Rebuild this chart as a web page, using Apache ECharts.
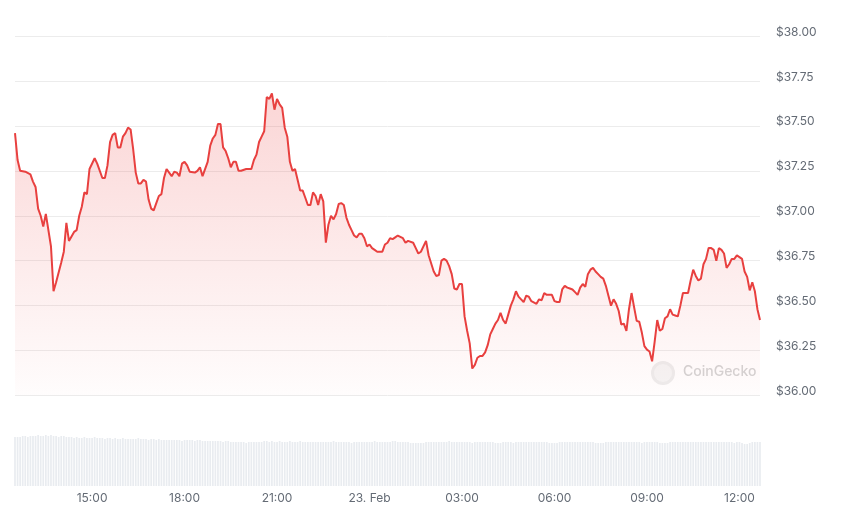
<!DOCTYPE html>
<html>
<head>
<meta charset="utf-8">
<script src="https://cdn.jsdelivr.net/npm/echarts@6/dist/echarts.min.js"></script>
<style>
html,body{margin:0;padding:0;background:#fff;}
#chart{width:844px;height:516px;}
</style>
</head>
<body>
<div id="chart"></div>
<script>
// 5-minute step index from 22 Feb 12:30 (local)
const steps = [
0,1,2,4,6,7,8,9,10,11,
12,14,15,16,18,19,20,21,23,24,
25,26,27,28,29,31,32,34,35,36,
37,38,39,40,41,42,43,44,45,46,
47,48,49,50,51,52,53,54,55,56,
57,58,59,60,61,62,63,64,65,66,
67,68,70,71,72,73,75,76,77,78,
79,80,81,82,83,84,85,86,87,88,
90,92,93,94,95,96,97,98,99,100,
101,102,103,104,105,106,107,108,109,110,
111,112,113,114,115,116,117,118,119,120,
121,122,123,124,125,126,127,128,129,130,
131,132,133,134,135,136,137,138,139,140,
141,143,144,145,146,147,148,149,151,152,
153,155,156,157,158,160,161,163,164,165,
166,167,168,169,170,171,172,173,174,175,
176,177,178,179,180,181,182,183,184,185,
186,187,188,189,190,191,192,193,194,195,
196,197,198,199,200,201,203,204,205,206,
207,208,209,210,211,212,213,214,215,216,
217,218,219,220,221,222,223,224,225,226,
227,228,229,230,231,232,233,234,235,236,
237,238,239,240,241,242,243,244,245,246,
247,248,249,250,251,252,253,254,255,256,
257,258,259,260,261,262,263,264,265,266,
267,268,269,270,271,272,273,274,275,276,
277,278,279,280,281,282,283,284,285,286,
287,288,289,290
];
const prices = [
37.46,37.31,37.25,37.245,37.23,37.19,37.16,37.04,37.00,36.94,
37.01,36.83,36.58,36.63,36.74,36.80,36.96,36.86,36.91,36.92,
37.00,37.05,37.13,37.12,37.26,37.32,37.29,37.21,37.21,37.28,
37.41,37.45,37.46,37.38,37.38,37.44,37.46,37.49,37.48,37.37,
37.24,37.18,37.18,37.20,37.19,37.09,37.04,37.03,37.07,37.11,
37.12,37.21,37.26,37.24,37.22,37.245,37.24,37.22,37.29,37.30,
37.28,37.245,37.24,37.25,37.27,37.22,37.30,37.39,37.43,37.45,
37.51,37.51,37.38,37.36,37.32,37.27,37.30,37.30,37.25,37.25,
37.26,37.26,37.31,37.34,37.41,37.44,37.47,37.66,37.65,37.68,
37.59,37.65,37.62,37.60,37.49,37.44,37.30,37.25,37.26,37.20,
37.14,37.14,37.10,37.06,37.06,37.13,37.11,37.06,37.12,37.08,
36.85,36.95,37.00,36.98,37.01,37.065,37.07,37.06,36.99,36.95,
36.92,36.89,36.88,36.90,36.90,36.875,36.83,36.84,36.82,36.81,
36.80,36.80,36.84,36.85,36.875,36.87,36.88,36.89,36.875,36.85,
36.86,36.85,36.82,36.79,36.80,36.86,36.78,36.69,36.665,36.67,
36.75,36.76,36.75,36.72,36.675,36.595,36.59,36.62,36.62,36.44,
36.36,36.29,36.15,36.17,36.21,36.22,36.22,36.24,36.28,36.34,
36.37,36.40,36.42,36.46,36.42,36.40,36.45,36.50,36.535,36.58,
36.55,36.535,36.52,36.555,36.55,36.525,36.51,36.535,36.53,36.57,
36.56,36.56,36.56,36.525,36.52,36.52,36.59,36.61,36.60,36.595,
36.59,36.575,36.56,36.60,36.62,36.605,36.675,36.70,36.71,36.69,
36.675,36.66,36.65,36.61,36.555,36.50,36.535,36.51,36.47,36.395,
36.40,36.36,36.48,36.57,36.49,36.415,36.41,36.35,36.275,36.255,
36.245,36.19,36.30,36.42,36.36,36.37,36.43,36.44,36.48,36.45,
36.445,36.44,36.50,36.57,36.57,36.57,36.64,36.70,36.665,36.64,
36.65,36.73,36.76,36.82,36.82,36.81,36.75,36.82,36.81,36.79,
36.71,36.73,36.76,36.76,36.78,36.77,36.76,36.69,36.66,36.585,
36.63,36.58,36.48,36.42
];
// one volume bar per 5-minute step (rows = hours)
const volumes = [
49,49,49,50,50,49,50,50,50,51,50,50,
51,50,51,50,50,49,50,50,49,49,49,48,
49,48,48,49,48,48,48,49,48,48,48,47,
48,48,47,48,47,47,48,47,47,47,47,47,
48,47,47,47,46,47,47,46,47,46,46,46,
46,46,46,46,46,45,46,46,46,46,45,46,
46,45,45,45,45,45,45,45,45,44,45,45,
44,44,44,44,44,44,43,44,44,44,44,44,
44,45,45,44,45,44,44,45,44,44,44,45,
44,44,44,45,44,44,44,44,44,44,44,44,
44,44,44,44,45,44,44,44,44,44,44,43,
44,44,44,44,44,44,44,44,45,44,44,44,
44,44,44,45,45,44,44,44,44,44,43,43,
43,43,43,43,44,44,44,44,44,44,44,44,
44,45,44,44,44,44,44,44,44,44,43,44,
44,44,44,44,44,44,44,43,43,43,44,44,
44,44,43,44,44,44,44,44,44,44,44,44,
44,44,44,44,43,43,43,43,44,44,44,44,
44,44,44,44,44,44,44,44,44,44,43,43,
43,43,44,44,44,44,44,44,44,44,44,44,
44,44,44,44,43,44,44,44,44,44,44,43,
43,43,43,44,44,44,44,44,44,44,44,44,
44,44,44,44,44,44,44,44,44,44,44,44,
44,44,44,44,43,44,44,43,42,42,43,44,
44,44,44
];
const tickHours = [[22,15],[22,18],[22,21],[23,0],[23,3],[23,6],[23,9],[23,12]];

const STEP = 5 * 60 * 1000;
const start = new Date(2024, 1, 22, 12, 30).getTime();
const end = start + 290 * STEP;
const lineData = steps.map((s, i) => [start + s * STEP, prices[i]]);
const volData = volumes.map((v, i) => [start + i * STEP, v]);
const tickVals = tickHours.map(d => new Date(2024, 1, d[0], d[1], 0).getTime());

function fmtTime(v) {
  const d = new Date(v);
  const h = d.getHours(), m = d.getMinutes();
  if (h === 0 && m === 0) return d.getDate() + '. Feb';
  return String(h).padStart(2, '0') + ':' + String(m).padStart(2, '0');
}

const chart = echarts.init(document.getElementById('chart'), null, {renderer: 'canvas'});
chart.setOption({
  animation: false,
  backgroundColor: '#ffffff',
  textStyle: {fontFamily: 'Inter, "Noto Sans", sans-serif'},
  grid: [
    {left: 15, right: 84, top: 36, height: 359.5},
    {left: 15, right: 84, top: 430, height: 56}
  ],
  xAxis: [
    {type: 'value', gridIndex: 0, min: start, max: end, scale: true,
     axisLine: {show: false}, axisTick: {show: false}, axisLabel: {show: false}, splitLine: {show: false}},
    {type: 'value', gridIndex: 1, min: start, max: end, scale: true,
     axisLine: {show: false}, axisTick: {show: false}, splitLine: {show: false},
     axisLabel: {customValues: tickVals, formatter: fmtTime, color: '#646b75', fontSize: 12, margin: 6}}
  ],
  yAxis: [
    {type: 'value', gridIndex: 0, position: 'right', min: 36, max: 38, interval: 0.25,
     axisLine: {show: false}, axisTick: {show: false},
     splitLine: {lineStyle: {color: '#ececec', width: 1}},
     axisLabel: {formatter: v => '$' + v.toFixed(2), color: '#646b75', fontSize: 12, margin: 16,
                 verticalAlign: 'bottom', lineHeight: 8}},
    {type: 'value', gridIndex: 1, min: 0, max: 56, show: false, splitLine: {show: false}}
  ],
  graphic: [
    {type: 'circle', shape: {cx: 663, cy: 373, r: 12}, style: {fill: '#ededed'}, z: 1},
    {type: 'circle', shape: {cx: 663, cy: 373, r: 9}, style: {fill: '#f5f5f5'}, z: 1},
    {type: 'text', left: 683, top: 365, style: {text: 'CoinGecko', fill: '#d4d4d4', fontSize: 14, fontWeight: 500, fontFamily: 'Inter, sans-serif'}, z: 1}
  ],
  series: [
    {type: 'line', xAxisIndex: 0, yAxisIndex: 0, data: lineData, showSymbol: false, symbol: 'none',
     lineStyle: {color: '#e8403f', width: 2},
     itemStyle: {color: '#e8403f'},
     areaStyle: {origin: 'start', color: new echarts.graphic.LinearGradient(0, 0, 0, 1, [
       {offset: 0, color: 'rgba(236,72,72,0.32)'},
       {offset: 1, color: 'rgba(236,72,72,0.02)'}
     ])}, z: 3},
    {type: 'bar', xAxisIndex: 1, yAxisIndex: 1, data: volData, barWidth: 1.7,
     itemStyle: {color: '#e9ecf0'}, silent: true}
  ]
});
</script>
</body>
</html>
